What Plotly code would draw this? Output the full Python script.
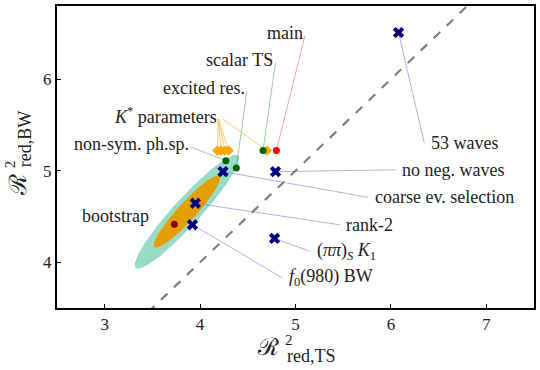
import numpy as np
import plotly.graph_objects as go

# ---------------- data ----------------
main_x, main_y = [4.80], [5.22]
kstar_x = [4.18, 4.22, 4.26, 4.30, 4.70]
kstar_y = [5.22, 5.22, 5.22, 5.22, 5.22]
green_labels = ["scalar TS", "excited res.", "non-sym. ph.sp."]
green_x = [4.66, 4.38, 4.27]
green_y = [5.22, 5.03, 5.11]
boot_x, boot_y = [3.73], [4.415]

cross_labels = ["53 waves", "no neg. waves", "coarse ev. selection", "rank-2",
                "(<i>ππ</i>)<sub><i>S</i></sub> <i>K</i><sub>1</sub>",
                "<i>f</i><sub>0</sub>(980) BW"]
cross_x = [6.08, 4.79, 4.24, 3.95, 4.78, 3.92]
cross_y = [6.51, 4.99, 4.99, 4.645, 4.26, 4.41]

# label anchor points (data coords) where leader lines start
cross_lab_x = [6.35, 6.05, 5.76, 5.46, 5.15, 4.86]
cross_lab_y = [5.30, 5.01, 4.71, 4.41, 4.12, 3.83]
green_lab_x = [4.79, 4.49, 3.90]
green_lab_y = [6.21, 5.90, 5.29]
main_lab = (5.10, 6.50)
kstar_lab = (4.20, 5.60)
boot_lab = (3.49, 4.51)

# bootstrap ellipses: centre, semi-major vector, semi-minor vector (data units)
ell_center = (3.861, 4.552)
ell_outer = ((0.537, 0.614), (0.104, -0.0997))
ell_inner = ((0.339, 0.388), (0.0700, -0.0670))

x_ticks = [3, 4, 5, 6, 7]
y_ticks = [4, 5, 6]
x_range = [2.5, 7.5]
y_range = [3.5, 6.8]

FONT = "Liberation Serif, serif"
FS = 18
TFS = 17

fig = go.Figure()


def ellipse(c, vecs):
    t = np.linspace(0, 2 * np.pi, 200)
    a, b = vecs
    xs = c[0] + np.cos(t) * a[0] + np.sin(t) * b[0]
    ys = c[1] + np.cos(t) * a[1] + np.sin(t) * b[1]
    return xs, ys


for vecs, col in [(ell_outer, "#98dbc6"), (ell_inner, "#e69f00")]:
    xs, ys = ellipse(ell_center, vecs)
    fig.add_trace(go.Scatter(x=xs, y=ys, mode="lines", fill="toself",
                             fillcolor=col, line=dict(width=0), hoverinfo="skip"))

# diagonal
fig.add_trace(go.Scatter(x=x_range, y=x_range, mode="lines",
                         line=dict(color="#808080", width=2.2, dash="dash")))


def leader(x0, y0, x1, y1, col):
    fig.add_trace(go.Scatter(x=[x0, x1], y=[y0, y1], mode="lines",
                             line=dict(color=col, width=0.9), hoverinfo="skip"))


leader(main_lab[0], main_lab[1] - 0.02, main_x[0], main_y[0], "rgba(255,80,80,0.6)")
for i in range(len(green_x)):
    leader(green_lab_x[i], green_lab_y[i] - 0.03, green_x[i], green_y[i], "rgba(80,160,80,0.6)")
for i in range(len(kstar_x)):
    x0 = kstar_lab[0] - 0.01 if i < 4 else kstar_lab[0] + 0.04
    leader(x0, kstar_lab[1] - 0.035, kstar_x[i], kstar_y[i], "rgba(255,175,40,0.7)")
for i in range(len(cross_x)):
    leader(cross_lab_x[i], cross_lab_y[i], cross_x[i], cross_y[i], "rgba(110,110,220,0.6)")

# markers
fig.add_trace(go.Scatter(x=kstar_x, y=kstar_y, mode="markers",
                         marker=dict(symbol="diamond", size=8, color="#ffa500")))
fig.add_trace(go.Scatter(x=main_x, y=main_y, mode="markers",
                         marker=dict(symbol="circle", size=7, color="#ff0000")))
fig.add_trace(go.Scatter(x=green_x, y=green_y, mode="markers",
                         marker=dict(symbol="circle", size=7, color="#006400")))
fig.add_trace(go.Scatter(x=boot_x, y=boot_y, mode="markers",
                         marker=dict(symbol="circle", size=7, color="#8b0000")))
fig.add_trace(go.Scatter(x=cross_x, y=cross_y, mode="markers",
                         marker=dict(symbol="x", size=10, color="#000080")))

ann = []


def label(x, y, text, anchor):
    ann.append(dict(x=x, y=y, xref="x", yref="y", text=text, showarrow=False,
                    xanchor=anchor, yanchor="middle",
                    font=dict(family=FONT, size=FS, color="#222")))


label(main_lab[0], main_lab[1], "main", "right")
for i, t in enumerate(green_labels):
    label(green_lab_x[i], green_lab_y[i], t, "right")
label(kstar_lab[0], kstar_lab[1], "<i>K</i><sup>*</sup> parameters", "right")
label(boot_lab[0], boot_lab[1], "bootstrap", "right")
for i, t in enumerate(cross_labels):
    label(cross_lab_x[i] + 0.05, cross_lab_y[i], t, "left")

# axis titles built from pieces (pixel positions -> paper)
L, R, T, B = 57, 536, 6, 308


def px(xp, yp):
    return (xp - L) / (R - L), (B - yp) / (B - T)


def ptext(xp, yp, text, size, angle=0):
    xx, yy = px(xp, yp)
    ann.append(dict(x=xx, y=yy, xref="paper", yref="paper", text=text, showarrow=False,
                    xanchor="center", yanchor="middle", textangle=angle,
                    font=dict(family=FONT, size=size, color="#222")))


ptext(269, 347, "ℛ", 24)
ptext(290, 340, "2", 15)
ptext(313, 356, "red,TS", 18)
ptext(18, 185, "ℛ", 24, -90)
ptext(10, 164, "2", 15, -90)
ptext(25, 139, "red,BW", 18, -90)

fig.update_layout(
    width=540, height=370, showlegend=False,
    margin=dict(l=L, r=540 - R, t=T, b=370 - B),
    plot_bgcolor="white", paper_bgcolor="white",
    annotations=ann,
    xaxis=dict(range=x_range, tickvals=x_ticks, showgrid=False, zeroline=False,
               showline=True, linecolor="black", linewidth=2, mirror=True,
               ticks="inside", ticklen=4, tickcolor="black",
               tickfont=dict(family=FONT, size=TFS, color="#222")),
    yaxis=dict(range=y_range, tickvals=y_ticks, showgrid=False, zeroline=False,
               showline=True, linecolor="black", linewidth=2, mirror=True,
               ticks="inside", ticklen=4, tickcolor="black",
               tickfont=dict(family=FONT, size=TFS, color="#222")),
)

fig.write_html("out.html", config={"displayModeBar": False},
               post_script="document.body.style.margin='0';document.body.style.overflow='hidden';")
